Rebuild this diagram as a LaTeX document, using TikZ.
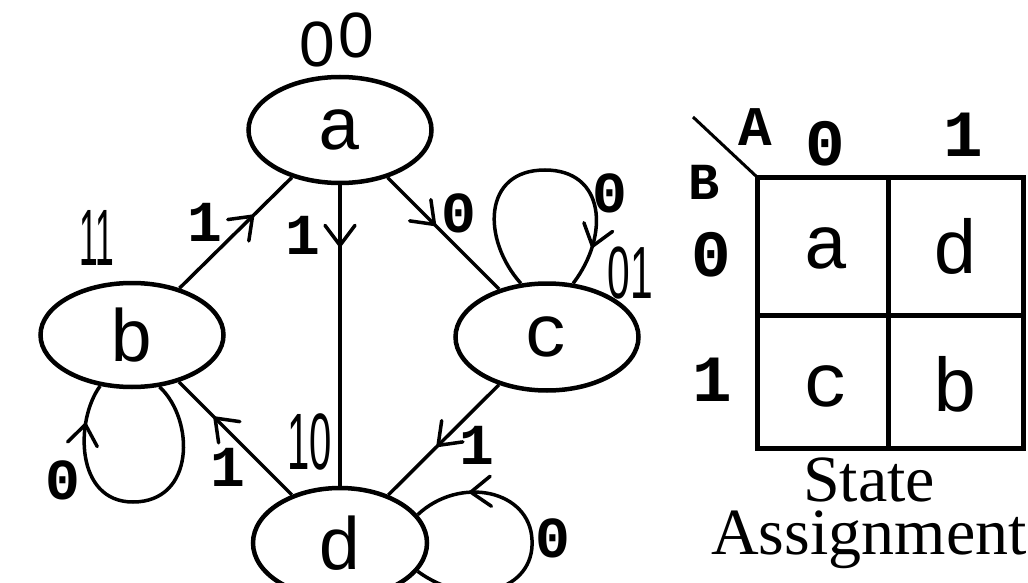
\documentclass[tikz,border=0pt]{standalone}
\usepackage{fontspec}
\setmainfont{Liberation Mono}
\newfontfamily\hand{Liberation Sans}
\newfontfamily\serifb{Liberation Serif}
\usetikzlibrary{shapes.geometric,decorations.markings}
\tikzset{
  state/.style={draw,ellipse,line width=4.5pt,inner sep=0pt,minimum width=183pt,minimum height=106pt,
    font=\fontsize{74}{74}\selectfont},
  conn/.style={line width=3.5pt},
  mid/.style={postaction={decorate},decoration={markings,
    mark=at position #1 with {\draw[line width=3.5pt,line cap=round,line join=miter]
      (-20pt,-15pt) -- (0pt,0pt) -- (-20pt,15pt);}}},
  elab/.style={font=\bfseries\fontsize{58}{58}\selectfont,inner sep=0pt},
  code/.style={font=\hand\fontsize{80}{80}\selectfont,inner sep=0pt},
  cell/.style={font=\fontsize{76}{76}\selectfont,inner sep=0pt},
  hdr/.style={font=\bfseries\fontsize{66}{66}\selectfont,inner sep=0pt},
  grid/.style={line width=5pt}
}
\begin{document}
\begin{tikzpicture}[x=1pt,y=-1pt]
\useasboundingbox (0,0) rectangle (1028,583);
% states
\node[state] (a) at (340,130) {a};
\node[state,minimum height=104pt] (b) at (132,335) {b};
\node[state,minimum height=107pt] (c) at (547,337) {c};
\node[state,minimum width=174pt,minimum height=110pt] (d) at (340,543) {\raisebox{-4pt}{d}};
% state codes
\node[code,font=\hand\fontsize{64}{64}\selectfont] (ca) at (337,40) {0\kern3pt\raisebox{9pt}{0}};
\node[code] (cb) at (97,238) {\scalebox{0.42}[1]{11}};
\node[code,font=\hand\fontsize{74}{74}\selectfont] (cc) at (630,273) {\scalebox{0.55}[1]{01}};
\node[code] (cd) at (310,442) {\scalebox{0.5}[1]{10}};
% transitions
\draw[conn,mid=0.65] (b) -- (a);
\draw[conn,mid=0.2] (a) -- (d);
\draw[conn,mid=0.42] (a) -- (c);
\draw[conn,mid=0.55] (c) -- (d);
\draw[conn,mid=0.68] (d) -- (b);
% self loops
\draw[conn,mid=0.86] (c.116) .. controls (482,240) and (482,170) .. (545,170)
  .. controls (605,170) and (610,235) .. (c.64);
\draw[conn,mid=0.86] (b.-62) .. controls (195,420) and (195,502) .. (133,502)
  .. controls (75,502) and (75,420) .. (b.-122);
\draw[conn,mid=0.8] (d.-20) .. controls (470,610) and (535,590) .. (532,540)
  .. controls (530,490) and (460,475) .. (d.20);
% edge labels
\node[elab] (l1) at (205,222) {1};
\node[elab] (l2) at (303,235) {1};
\node[elab] (l3) at (459,213) {0};
\node[elab] (l4) at (610,193) {0};
\node[elab] (l5) at (477,445) {1};
\node[elab] (l6) at (228,467) {1};
\node[elab] (l7) at (63,480) {0};
\node[elab] (l8) at (553,538) {0};
% state assignment map
\draw[grid] (757,177) rectangle (1023,448);
\draw[grid] (888,177) -- (888,448);
\draw[grid] (757,315) -- (1023,315);
\draw[line width=3pt] (693,117) -- (757,177);
\node[hdr,font=\bfseries\fontsize{56}{56}\selectfont] (hA) at (755,127) {A};
\node[hdr,font=\bfseries\fontsize{52}{52}\selectfont] (hB) at (704,182) {B};
\node[hdr] (h0) at (825,144) {0};
\node[hdr] (h1) at (963,135) {1};
\node[hdr] (r0) at (711,255) {0};
\node[hdr] (r1) at (712,380) {1};
\node[cell] (ka) at (826,248) {a};
\node[cell] (kd) at (955,246) {d};
\node[cell] (kc) at (826,386) {c};
\node[cell] (kb) at (955,384) {b};
\node[font=\serifb\fontsize{66}{53}\selectfont,align=center,anchor=north,inner sep=0pt] (sa) at (869,458) {State\\Assignment};
\end{tikzpicture}
\end{document}
